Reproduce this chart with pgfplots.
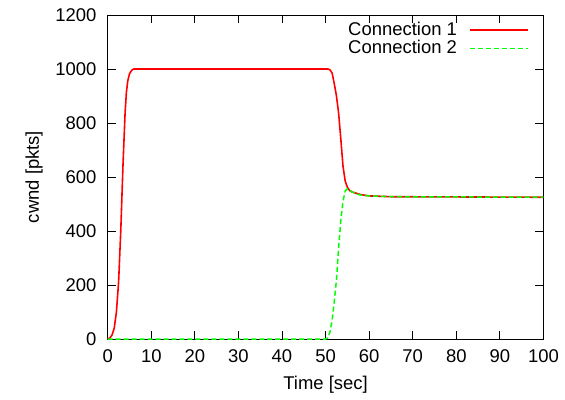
\documentclass[border=0pt]{standalone}
\usepackage{fontspec}
\setmainfont{Liberation Sans}
\usepackage{pgfplots}
\pgfplotsset{compat=1.18}
\begin{document}
\fontsize{18.5bp}{21bp}\selectfont
\begin{tikzpicture}
\begin{axis}[
  name=ax,
  scale only axis,
  width=437bp, height=325bp,
  xmin=0, xmax=100, ymin=0, ymax=1200,
  xtick={0,10,...,100}, ytick={0,200,...,1200},
  tick align=inside,
  major tick length=8bp,
  axis line style={line width=0.9bp},
  tick style={line width=0.8bp, black},
  /pgf/number format/assume math mode=true,
  /pgf/number format/1000 sep={},
  ticklabel style={font=\fontsize{18.5bp}{21bp}\selectfont},
  label style={font=\fontsize{18.5bp}{21bp}\selectfont},
  xlabel={Time [sec]}, ylabel={cwnd [pkts]},
  xticklabel style={yshift=-4bp},
  yticklabel style={xshift=-5bp},
  xlabel style={yshift=-1bp},
  ylabel style={yshift=0bp},
  clip=false,
  legend plot pos=right,
  legend cell align=right,
  legend style={draw=none, fill=none, at={(1,1)}, anchor=north east,
    xshift=-12bp, yshift=-3bp, font=\fontsize{18.5bp}{21bp}\selectfont,
    row sep=-2bp},
  legend image code/.code={\path (0bp,0bp); \draw[#1] (10bp,0bp) -- (68bp,0bp);},
]
\addplot[red, line width=1.6bp] coordinates {
(0,0) (0.5,4) (1,15) (1.5,40) (2,100) (2.5,210) (3,400) (3.5,640) (4,840)
(4.3,915) (4.6,955) (5,982) (5.5,995) (6,1000) (50.5,1000) (51,997) (51.5,985)
(52,945) (52.5,900) (53,835) (53.5,740) (54,640) (54.5,585) (55,562) (55.5,550)
(56,545) (57,540) (58,535) (60,530) (65,527) (100,525)
};
\addlegendentry{Connection 1}
\addplot[color={rgb,255:red,0;green,255;blue,0}, line width=1.5bp, dash pattern=on 5bp off 3bp] coordinates {
(0,0) (50,0) (50.5,5) (51,25) (51.5,70) (52,140) (52.5,220) (53,340) (53.5,440)
(54,510) (54.5,548) (55,556) (55.5,552) (56,545) (57,538) (58,533) (60,530)
(65,527) (100,525)
};
\addlegendentry{Connection 2}
\end{axis}
\path ([xshift=-108bp,yshift=-60bp]ax.south west) rectangle ([xshift=20bp,yshift=15bp]ax.north east);
\end{tikzpicture}
\end{document}
